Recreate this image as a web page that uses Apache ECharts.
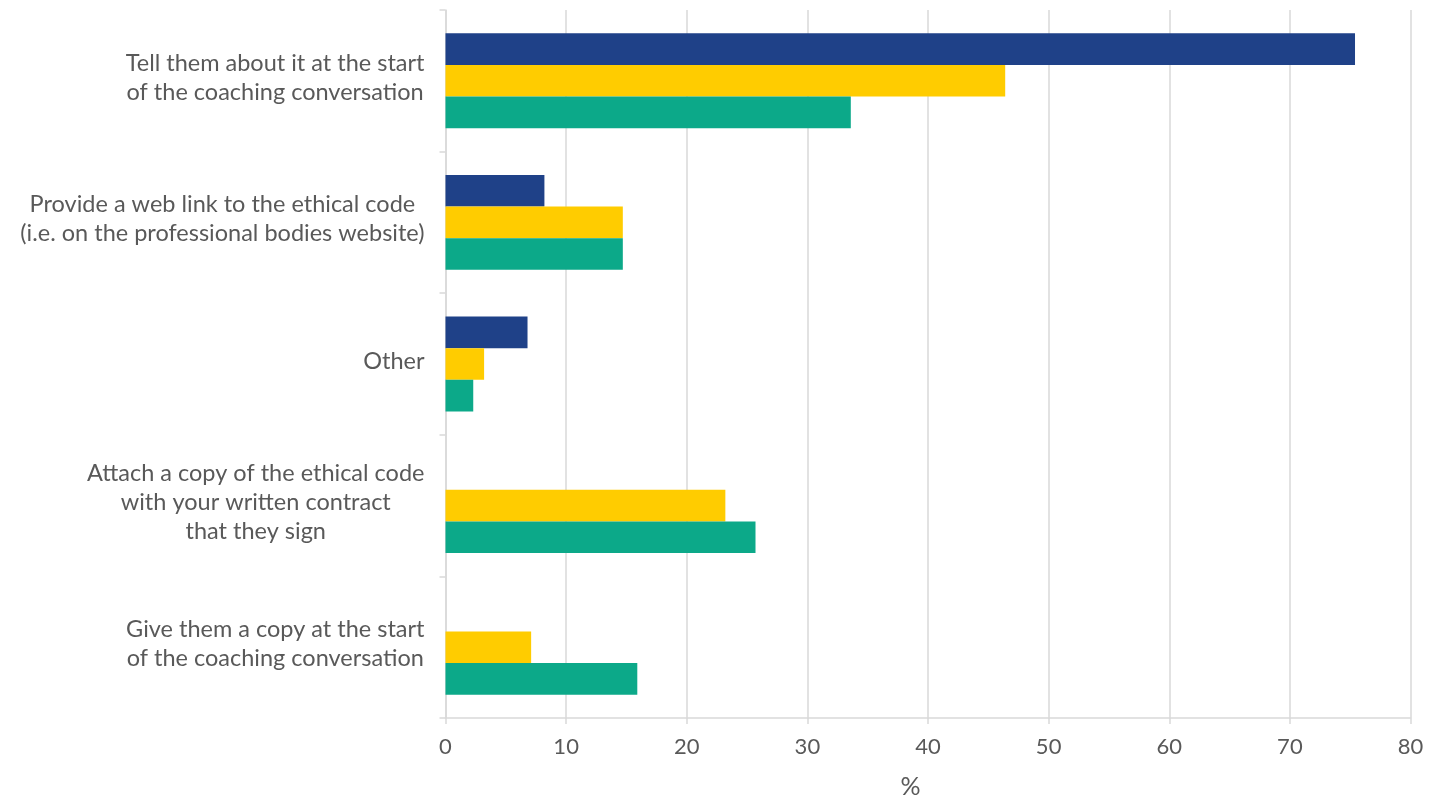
<!DOCTYPE html>
<html>
<head>
<meta charset="utf-8">
<script src="https://cdn.jsdelivr.net/npm/echarts@6/dist/echarts.min.js"></script>
<style>
  html, body { margin: 0; padding: 0; background: #ffffff; }
  #chart { width: 1440px; height: 798px; }
</style>
</head>
<body>
<div id="chart"></div>
<script>
// Ways of sharing the ethical code with clients (top to bottom)
const categories = [
  'Tell them about it at the start\nof the coaching conversation',
  'Provide a web link to the ethical code\n(i.e. on the professional bodies website)',
  'Other',
  'Attach a copy of the ethical code\nwith your written contract\nthat they sign',
  'Give them a copy at the start\nof the coaching conversation'
];

// Percentages per respondent group
const seriesNavy   = [75.4, 8.2, 6.8, 0, 0];
const seriesYellow = [46.4, 14.7, 3.2, 23.2, 7.1];
const seriesGreen  = [33.6, 14.7, 2.3, 25.7, 15.9];

const xTicks = [0, 10, 20, 30, 40, 50, 60, 70, 80];

const FONT = 'Lato';
const GREY_TEXT = '#595959';
const GRID_GREY = '#d9d9d9';

const chart = echarts.init(document.getElementById('chart'), null, { renderer: 'canvas' });

function bar(name, data, color) {
  return {
    name: name,
    type: 'bar',
    data: data,
    barGap: '0%',
    barCategoryGap: '33%',
    itemStyle: { color: color },
    emphasis: { disabled: true },
    silent: true
  };
}

chart.setOption({
  animation: false,
  grid: {
    left: 445.5, right: 29.5, top: 10, bottom: 80,
    containLabel: false,
    outerBoundsMode: 'none'
  },
  xAxis: {
    type: 'value',
    min: xTicks[0],
    max: xTicks[xTicks.length - 1],
    interval: 10,
    name: '%',
    nameLocation: 'middle',
    nameGap: 56,
    nameTextStyle: { fontFamily: FONT, fontSize: 25, color: GREY_TEXT, padding: [0, 35, 0, 0] },
    axisLine: { show: true, lineStyle: { color: GRID_GREY, width: 1.5 } },
    axisTick: { show: true, length: 6, lineStyle: { color: GRID_GREY, width: 1.5 } },
    axisLabel: { fontFamily: FONT, fontSize: 22, color: GREY_TEXT, margin: 18 },
    splitLine: { show: true, lineStyle: { color: GRID_GREY, width: 1.5 } }
  },
  yAxis: {
    type: 'category',
    data: categories,
    inverse: true,
    axisLine: { show: true, lineStyle: { color: GRID_GREY, width: 1.5 } },
    axisTick: { show: true, length: 6, alignWithLabel: false, lineStyle: { color: GRID_GREY, width: 1.5 } },
    axisLabel: {
      margin: 21,
      padding: [0, 0, 6, 0],
      formatter: function (v) {
        return v.split('\n').map(function (l) { return '{c|' + l + '}'; }).join('\n');
      },
      rich: {
        c: { fontFamily: FONT, fontSize: 23.5, color: GREY_TEXT, align: 'center', lineHeight: 29 }
      }
    },
    splitLine: { show: false }
  },
  series: [
    bar('Group A', seriesNavy, '#1f4188'),
    bar('Group B', seriesYellow, '#ffcc00'),
    bar('Group C', seriesGreen, '#0ca989')
  ]
});
</script>
</body>
</html>
